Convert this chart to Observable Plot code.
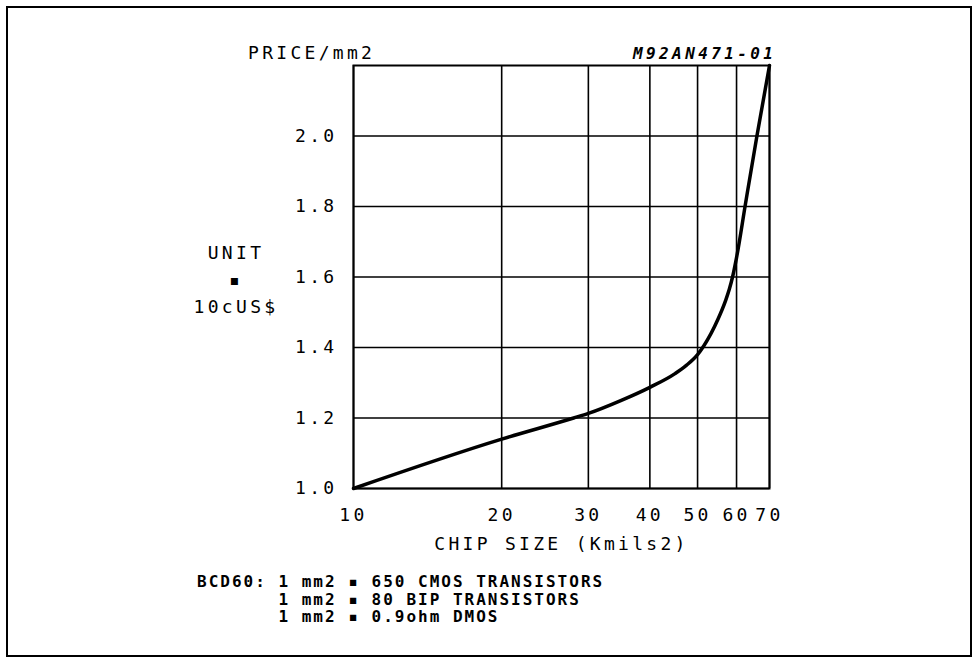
<!DOCTYPE html>
<html>
<head>
<meta charset="utf-8">
<script src="https://cdn.jsdelivr.net/npm/d3@7"></script>
<script src="https://cdn.jsdelivr.net/npm/@observablehq/plot@0.6"></script>
<style>
  html, body { margin: 0; padding: 0; background: #fff; }
  #wrap { position: relative; width: 972px; height: 662px; overflow: hidden; font-family: "DejaVu Sans Mono", monospace; color: #000; }
  #border { position: absolute; left: 6px; top: 6px; width: 962px; height: 647px; border: 2px solid #000; }
  .t { position: absolute; white-space: pre; line-height: 18px; font-size: 18px; letter-spacing: 3.3px; }
  #chart { position: absolute; left: 0; top: 0; }
  #chart svg text { letter-spacing: 3.3px; }
</style>
</head>
<body>
<div id="wrap">
  <div id="border"></div>
  <div id="chart"></div>
</div>
<script>
// Data
const chipSize = [10, 20, 28, 30, 35, 40, 45, 47.5, 50, 51.5, 55, 57, 58, 59, 60, 62.6, 66, 70];
const pricePerMm2 = [1.0, 1.14, 1.2, 1.213, 1.25, 1.287, 1.326, 1.35, 1.38, 1.405, 1.48, 1.533, 1.565, 1.605, 1.655, 1.81, 2.0, 2.2];
const xTicks = [10, 20, 30, 40, 50, 60, 70];
const yTicks = [1.0, 1.2, 1.4, 1.6, 1.8, 2.0];
const yLabel = "PRICE/mm2";
const xLabel = "CHIP SIZE (Kmils2)";
const codeLabel = "M92AN471-01";
const unitLines = ["UNIT", "▪", "10cUS$"];
const noteLines = [
  "BCD60: 1 mm2 ▪ 650 CMOS TRANSISTORS",
  "       1 mm2 ▪ 80 BIP TRANSISTORS",
  "       1 mm2 ▪ 0.9ohm DMOS"
];

const data = chipSize.map((x, i) => ({x, y: pricePerMm2[i]}));

const chart = Plot.plot({
  width: 972,
  height: 662,
  marginLeft: 353,
  marginRight: 203,
  marginTop: 65,
  marginBottom: 174,
  style: {fontFamily: "DejaVu Sans Mono", fontSize: "18px", color: "#000", background: "transparent"},
  x: {type: "log", domain: [10, 70]},
  y: {type: "linear", domain: [1.0, 2.2]},
  marks: [
    Plot.gridX(xTicks, {stroke: "#000", strokeOpacity: 1, strokeWidth: 1.6}),
    Plot.gridY(yTicks, {stroke: "#000", strokeOpacity: 1, strokeWidth: 1.6}),
    Plot.frame({stroke: "#000", strokeWidth: 2}),
    Plot.axisX(xTicks, {tickSize: 0, tickPadding: 20, tickFormat: d => String(d), label: xLabel, labelAnchor: "center", labelArrow: "none", labelOffset: 61, fontSize: 18}),
    Plot.axisY(yTicks, {tickSize: 0, tickPadding: 16, tickFormat: d => d.toFixed(1), label: null, fontSize: 18}),
    Plot.line(data, {x: "x", y: "y", curve: "monotone-x", stroke: "#000", strokeWidth: 3.5, strokeLinejoin: "round", strokeLinecap: "round"})
  ]
});
document.getElementById("chart").appendChild(chart);

const wrap = document.getElementById("wrap");
function addText(txt, css) {
  const d = document.createElement("div");
  d.className = "t";
  d.textContent = txt;
  Object.assign(d.style, css);
  wrap.appendChild(d);
  return d;
}
addText(yLabel, {left: "248px", top: "44px"});
addText(codeLabel, {left: "633px", top: "45px", fontSize: "16px", fontStyle: "italic", fontWeight: "600", letterSpacing: "3.4px"});
addText(unitLines.join("\n"), {left: "176px", width: "120px", textAlign: "center", top: "243px", lineHeight: "27px", marginTop: "-4px"});
addText(noteLines.join("\n"), {left: "197px", top: "573px", fontSize: "16px", lineHeight: "17.5px", fontWeight: "bold", letterSpacing: "2px"});
</script>
</body>
</html>
